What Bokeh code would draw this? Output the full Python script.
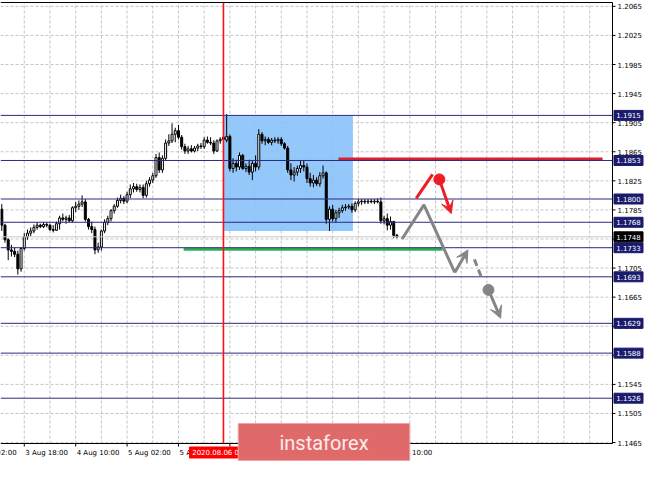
from bokeh.plotting import figure
from bokeh.models import Range1d, Arrow, VeeHead
from bokeh.core.properties import value
from bokeh.embed import file_html
from bokeh.resources import INLINE

# ---------------- data (EUR/USD H1, bar index = hours, weekend skipped) ----------------
hour_index = list(range(11, 135))

open_ = [1.1786, 1.1764, 1.1744, 1.1730, 1.1728, 1.1724, 1.1704, 1.1732, 1.1748, 1.1753,
         1.1756, 1.1761, 1.1764, 1.1762, 1.1765, 1.1764, 1.1758, 1.1757, 1.1766, 1.1774,
         1.1772, 1.1774, 1.1770, 1.1788, 1.1790, 1.1793, 1.1796, 1.1772, 1.1762, 1.1758,
         1.1730, 1.1734, 1.1756, 1.1768, 1.1773, 1.1784, 1.1790, 1.1798, 1.1801, 1.1797,
         1.1806, 1.1814, 1.1817, 1.1813, 1.1816, 1.1805, 1.1821, 1.1826, 1.1832, 1.1857,
         1.1840, 1.1856, 1.1877, 1.1880, 1.1889, 1.1894, 1.1885, 1.1872, 1.1866, 1.1869,
         1.1866, 1.1870, 1.1873, 1.1872, 1.1881, 1.1878, 1.1877, 1.1866, 1.1880, 1.1882,
         1.1881, 1.1886, 1.1842, 1.1849, 1.1844, 1.1860, 1.1842, 1.1845, 1.1837, 1.1849,
         1.1844, 1.1889, 1.1880, 1.1882, 1.1878, 1.1881, 1.1880, 1.1882, 1.1876, 1.1870,
         1.1840, 1.1833, 1.1837, 1.1842, 1.1846, 1.1844, 1.1828, 1.1822, 1.1826, 1.1821,
         1.1832, 1.1836, 1.1772, 1.1786, 1.1773, 1.1781, 1.1784, 1.1788, 1.1789, 1.1790,
         1.1785, 1.1794, 1.1796, 1.1797, 1.1796, 1.1797, 1.1796, 1.1797, 1.1796, 1.1770,
         1.1773, 1.1764, 1.1769, 1.1750]

high = [1.1793, 1.1766, 1.1746, 1.1737, 1.1733, 1.1729, 1.1734, 1.1753, 1.1758, 1.1761,
        1.1765, 1.1768, 1.1766, 1.1768, 1.1768, 1.1766, 1.1764, 1.1769, 1.1777, 1.1780,
        1.1777, 1.1778, 1.1790, 1.1796, 1.1798, 1.1805, 1.1800, 1.1774, 1.1769, 1.1762,
        1.1740, 1.1758, 1.1772, 1.1777, 1.1786, 1.1793, 1.1802, 1.1806, 1.1804, 1.1810,
        1.1820, 1.1822, 1.1821, 1.1820, 1.1820, 1.1825, 1.1830, 1.1836, 1.1862, 1.1864,
        1.1860, 1.1882, 1.1889, 1.1904, 1.1898, 1.1902, 1.1888, 1.1876, 1.1873, 1.1874,
        1.1873, 1.1876, 1.1877, 1.1885, 1.1886, 1.1885, 1.1881, 1.1882, 1.1885, 1.1888,
        1.1917, 1.1889, 1.1856, 1.1854, 1.1864, 1.1862, 1.1849, 1.1854, 1.1853, 1.1860,
        1.1896, 1.1892, 1.1886, 1.1885, 1.1884, 1.1885, 1.1885, 1.1885, 1.1878, 1.1873,
        1.1849, 1.1844, 1.1846, 1.1853, 1.1853, 1.1849, 1.1836, 1.1833, 1.1830, 1.1837,
        1.1846, 1.1838, 1.1790, 1.1792, 1.1785, 1.1788, 1.1792, 1.1793, 1.1793, 1.1794,
        1.1797, 1.1800, 1.1800, 1.1800, 1.1800, 1.1800, 1.1800, 1.1801, 1.1802, 1.1777,
        1.1780, 1.1776, 1.1770, 1.1752]

low = [1.1756, 1.1740, 1.1716, 1.1721, 1.1720, 1.1696, 1.1700, 1.1729, 1.1744, 1.1749,
       1.1753, 1.1758, 1.1760, 1.1760, 1.1761, 1.1756, 1.1754, 1.1756, 1.1758, 1.1769,
       1.1766, 1.1768, 1.1768, 1.1782, 1.1785, 1.1789, 1.1769, 1.1758, 1.1753, 1.1724,
       1.1726, 1.1729, 1.1753, 1.1764, 1.1769, 1.1780, 1.1788, 1.1794, 1.1793, 1.1794,
       1.1801, 1.1809, 1.1810, 1.1809, 1.1801, 1.1802, 1.1817, 1.1822, 1.1829, 1.1836,
       1.1836, 1.1853, 1.1873, 1.1877, 1.1878, 1.1882, 1.1868, 1.1862, 1.1862, 1.1864,
       1.1864, 1.1866, 1.1869, 1.1869, 1.1876, 1.1874, 1.1862, 1.1865, 1.1876, 1.1878,
       1.1878, 1.1838, 1.1836, 1.1838, 1.1840, 1.1840, 1.1837, 1.1833, 1.1826, 1.1838,
       1.1840, 1.1876, 1.1874, 1.1876, 1.1874, 1.1877, 1.1876, 1.1873, 1.1868, 1.1836,
       1.1826, 1.1824, 1.1832, 1.1836, 1.1838, 1.1822, 1.1817, 1.1816, 1.1818, 1.1817,
       1.1828, 1.1766, 1.1756, 1.1769, 1.1768, 1.1774, 1.1781, 1.1784, 1.1786, 1.1781,
       1.1782, 1.1790, 1.1792, 1.1793, 1.1793, 1.1794, 1.1793, 1.1794, 1.1766, 1.1765,
       1.1757, 1.1758, 1.1746, 1.1746]

close = [1.1764, 1.1744, 1.1730, 1.1728, 1.1724, 1.1704, 1.1732, 1.1748, 1.1753, 1.1756,
         1.1761, 1.1764, 1.1762, 1.1765, 1.1764, 1.1758, 1.1757, 1.1766, 1.1774, 1.1772,
         1.1774, 1.1770, 1.1788, 1.1790, 1.1793, 1.1796, 1.1772, 1.1762, 1.1758, 1.1730,
         1.1734, 1.1756, 1.1768, 1.1773, 1.1784, 1.1790, 1.1798, 1.1801, 1.1797, 1.1806,
         1.1814, 1.1817, 1.1813, 1.1816, 1.1805, 1.1821, 1.1826, 1.1832, 1.1857, 1.1840,
         1.1856, 1.1877, 1.1880, 1.1889, 1.1894, 1.1885, 1.1872, 1.1866, 1.1869, 1.1866,
         1.1870, 1.1873, 1.1872, 1.1881, 1.1878, 1.1877, 1.1866, 1.1880, 1.1882, 1.1885,
         1.1886, 1.1842, 1.1849, 1.1844, 1.1860, 1.1842, 1.1845, 1.1837, 1.1849, 1.1844,
         1.1889, 1.1880, 1.1882, 1.1878, 1.1881, 1.1880, 1.1882, 1.1876, 1.1870, 1.1840,
         1.1833, 1.1837, 1.1842, 1.1846, 1.1844, 1.1828, 1.1822, 1.1826, 1.1821, 1.1832,
         1.1836, 1.1772, 1.1786, 1.1773, 1.1781, 1.1784, 1.1788, 1.1789, 1.1790, 1.1785,
         1.1794, 1.1796, 1.1797, 1.1796, 1.1797, 1.1796, 1.1797, 1.1796, 1.1770, 1.1773,
         1.1764, 1.1769, 1.1750, 1.1748]

price_ticks = [1.2065, 1.2025, 1.1985, 1.1945, 1.1905, 1.1865, 1.1825, 1.1785,
               1.1745, 1.1705, 1.1665, 1.1625, 1.1585, 1.1545, 1.1505, 1.1465]
levels = [1.1915, 1.1853, 1.1800, 1.1768, 1.1733, 1.1693, 1.1629, 1.1588, 1.1526]
last_price = 1.1748

time_tick_hours = [2, 18, 34, 50, 66, 82, 98, 114, 130]
time_tick_labels = ["3 Aug 02:00", "3 Aug 18:00", "4 Aug 10:00", "5 Aug 02:00", "5 Aug 18:00",
                    "6 Aug 10:00", "7 Aug 02:00", "7 Aug 18:00", "10 Aug 10:00"]
grid_hours = list(range(18, 202, 8))

marker_hour = 80
marker_text = "2020.08.06 08:00"

zone_hours = [80, 120.3]
zone_prices = [1.1915, 1.1756]

resistance_hours = [115.8, 198.0]
resistance_price = 1.1855
support_hours = [67.6, 148.2]
support_price = 1.1731

grey_path_hours = [135.6, 142.4, 152.0]
grey_path_prices = [1.1745, 1.1792, 1.1699]
grey_arrow_end = (156.1, 1.1730)
grey_dash_hours = [158.1, 160.6]
grey_dash_prices = [1.1717, 1.1689]
grey_dot = (162.5, 1.1675)
grey_dot_arrow_end = (166.3, 1.1636)

red_path_hours = [140.0, 145.1]
red_path_prices = [1.1801, 1.1834]
red_dot = (147.2, 1.1827)
red_dot_arrow_end = (150.9, 1.1780)

brand = "instaforex"
watermark_hours = [84.6, 138.0]

# ---------------- layout: chart area + price scale + time scale on one canvas ----------------
W, H = 649, 461
CHART_W, CHART_TOP, CHART_H = 612, 2, 441
X0, X1 = 10.6, 201.1          # hours shown in the chart area
Y0, Y1 = 1.14637, 1.20703     # prices shown in the chart area
HPX = (X1 - X0) / CHART_W     # hours per pixel
PPX = (Y1 - Y0) / CHART_H     # price per pixel
XR = (X0, X0 + W * HPX)
YR = (Y0 - (H - CHART_TOP - CHART_H) * PPX, Y1 + CHART_TOP * PPX)

p = figure(width=W, height=H, x_range=Range1d(*XR), y_range=Range1d(*YR),
           output_backend="svg", toolbar_location=None,
           x_axis_location=None, y_axis_location=None,
           min_border_left=0, min_border_right=0, min_border_top=0, min_border_bottom=0)
p.outline_line_color = None
p.background_fill_color = "white"
p.border_fill_color = "white"
p.xgrid.visible = False
p.ygrid.visible = False

GRID = "#C4C4C4"
# dashed grid
p.segment(x0=grid_hours, y0=[Y0] * len(grid_hours), x1=grid_hours, y1=[Y1] * len(grid_hours),
          line_color=GRID, line_width=1, line_dash="3 2")
p.segment(x0=[X0] * len(price_ticks), y0=price_ticks, x1=[X1] * len(price_ticks), y1=price_ticks,
          line_color=GRID, line_width=1, line_dash="3 2")

# blue zone
p.quad(left=[zone_hours[0]], right=[zone_hours[1]], top=[zone_prices[0]], bottom=[zone_prices[1]],
       fill_color="#8AC2F9", fill_alpha=0.9, line_color=None)

# candles
tops = [max(o, c) for o, c in zip(open_, close)]
bottoms = [min(o, c) for o, c in zip(open_, close)]
fills = ["white" if c >= o else "black" for o, c in zip(open_, close)]
p.segment(x0=hour_index, y0=high, x1=hour_index, y1=low, line_color="black", line_width=1)
p.vbar(x=hour_index, width=0.62, top=tops, bottom=bottoms, fill_color=fills,
       line_color="black", line_width=1)

# red resistance / green support
p.line(resistance_hours, [resistance_price] * 2, line_color="#DC1F30", line_width=3)
p.line(support_hours, [support_price] * 2, line_color="#2DB04E", line_width=3)

# level lines, bid line, vertical time marker
p.segment(x0=[X0] * len(levels), y0=levels, x1=[X1] * len(levels), y1=levels,
          line_color="#2A2A82", line_width=1)
p.segment(x0=[X0], y0=[last_price], x1=[X1], y1=[last_price], line_color="#C8C8C8", line_width=1)
p.segment(x0=[marker_hour], y0=[Y0], x1=[marker_hour], y1=[Y1], line_color="#FF1010", line_width=1.6)

# grey forecast
GREY = "#858585"
p.line(grey_path_hours, grey_path_prices, line_color=GREY, line_width=3)
p.add_layout(Arrow(end=VeeHead(size=12, fill_color=GREY, line_color=GREY),
                   x_start=grey_path_hours[-1], y_start=grey_path_prices[-1],
                   x_end=grey_arrow_end[0], y_end=grey_arrow_end[1], line_color=GREY, line_width=3))
p.line(grey_dash_hours, grey_dash_prices, line_color=GREY, line_width=3, line_dash="7 4")
p.scatter([grey_dot[0]], [grey_dot[1]], size=11, fill_color=GREY, line_color=GREY)
p.add_layout(Arrow(end=VeeHead(size=12, fill_color=GREY, line_color=GREY),
                   x_start=grey_dot[0], y_start=grey_dot[1],
                   x_end=grey_dot_arrow_end[0], y_end=grey_dot_arrow_end[1], line_color=GREY, line_width=3))

# red forecast
RED = "#EE1C25"
p.line(red_path_hours, red_path_prices, line_color=RED, line_width=3)
p.scatter([red_dot[0]], [red_dot[1]], size=11, fill_color=RED, line_color=RED)
p.add_layout(Arrow(end=VeeHead(size=12, fill_color=RED, line_color=RED),
                   x_start=red_dot[0], y_start=red_dot[1],
                   x_end=red_dot_arrow_end[0], y_end=red_dot_arrow_end[1], line_color=RED, line_width=3))

# chart frame (top, right = price axis line, bottom = time axis line)
p.segment(x0=[X0, X1, X0], y0=[Y1, Y0, Y0], x1=[X1, X1, X1], y1=[Y1, Y1, Y0],
          line_color="black", line_width=1)

# price scale: ticks + labels
FONT = value("DejaVu Sans")
p.segment(x0=[X1] * len(price_ticks), y0=price_ticks, x1=[X1 + 3 * HPX] * len(price_ticks), y1=price_ticks,
          line_color="black", line_width=1)
p.text(x=[X1 + 5 * HPX] * len(price_ticks), y=price_ticks, text=[f"{t:.4f}" for t in price_ticks],
       text_font=FONT, text_font_size="7px", text_color="black", text_align="left", text_baseline="middle")

# price tags for levels and last price
tag_x = X1 + 16 * HPX
p.rect(x=[tag_x] * len(levels), y=levels, width=29, height=10, width_units="screen", height_units="screen",
       fill_color="#1B1B6E", line_color="#1B1B6E")
p.text(x=[tag_x] * len(levels), y=levels, text=[f"{lv:.4f}" for lv in levels], text_font=FONT,
       text_font_size="7px", text_color="white", text_align="center", text_baseline="middle")
p.rect(x=[tag_x], y=[last_price], width=29, height=10, width_units="screen", height_units="screen",
       fill_color="black", line_color="black")
p.text(x=[tag_x], y=[last_price], text=[f"{last_price:.4f}"], text_font=FONT,
       text_font_size="7px", text_color="white", text_align="center", text_baseline="middle")

# time scale: ticks + left-aligned labels
label_y = Y0 - 9 * PPX
p.segment(x0=time_tick_hours, y0=[Y0] * len(time_tick_hours), x1=time_tick_hours,
          y1=[Y0 - 3 * PPX] * len(time_tick_hours), line_color="black", line_width=1)
p.text(x=[h + 1 * HPX for h in time_tick_hours], y=[label_y] * len(time_tick_hours), text=time_tick_labels,
       text_font=FONT, text_font_size="7px", text_color="black", text_align="left", text_baseline="middle")

# time marker tag
p.rect(x=[marker_hour], y=[label_y], width=68, height=11, width_units="screen", height_units="screen",
       fill_color="#FF0000", line_color="#FF0000")
p.text(x=[marker_hour], y=[label_y], text=[marker_text], text_font=FONT, text_font_size="7px",
       text_color="white", text_align="center", text_baseline="middle")

# watermark
wm_top = Y0 + 20 * PPX
p.quad(left=[watermark_hours[0]], right=[watermark_hours[1]], top=[wm_top], bottom=[YR[0] + 1 * PPX],
       fill_color="#E06A6A", line_color="#EFA5A5", line_width=1)
p.text(x=[(watermark_hours[0] + watermark_hours[1]) / 2], y=[(wm_top + YR[0]) / 2], text=[brand],
       text_font=value("Roboto"), text_font_size="20px", text_color="#FBECEC",
       text_align="center", text_baseline="middle")

open("out.html", "w").write(file_html(p, INLINE))
